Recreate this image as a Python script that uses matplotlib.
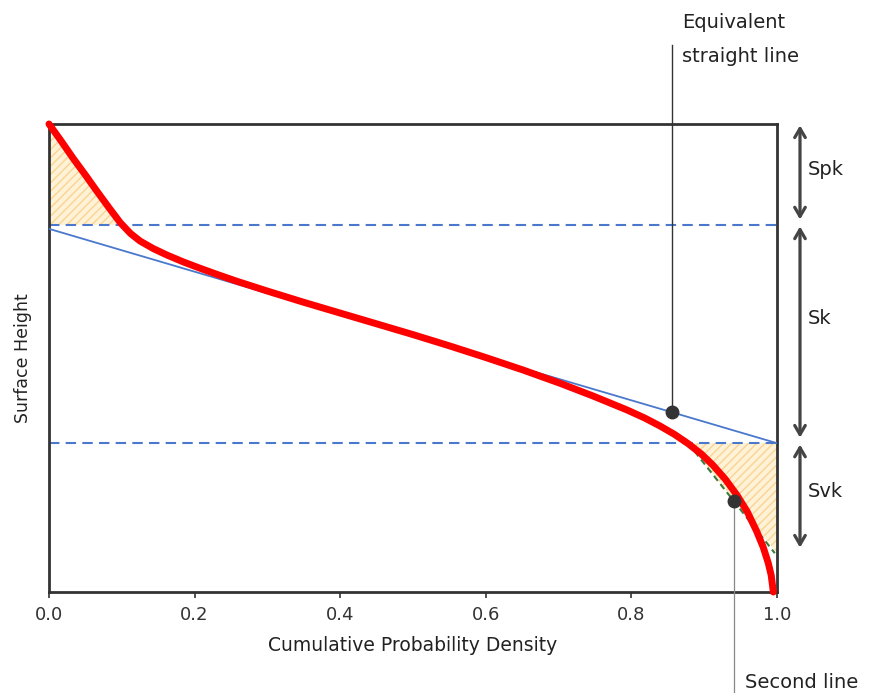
import numpy as np
import matplotlib
matplotlib.use("Agg")
import matplotlib.pyplot as plt

# bearing (Abbott-Firestone) curve
cum_prob = [0.0, 0.017, 0.033, 0.050, 0.066, 0.082, 0.098, 0.112, 0.125, 0.143, 0.162,
            0.185, 0.207, 0.232, 0.258, 0.30, 0.35, 0.40, 0.45, 0.50, 0.55, 0.60,
            0.65, 0.702, 0.747, 0.794, 0.818, 0.839, 0.859, 0.878, 0.896, 0.912,
            0.929, 0.945, 0.959, 0.972, 0.981, 0.988, 0.992, 0.995]
height = [1.0, 0.963, 0.927, 0.891, 0.856, 0.822, 0.789, 0.766, 0.750, 0.734, 0.720,
          0.705, 0.692, 0.678, 0.664, 0.643, 0.619, 0.596, 0.573, 0.550, 0.526, 0.501,
          0.475, 0.446, 0.419, 0.389, 0.372, 0.355, 0.337, 0.317, 0.295, 0.271,
          0.241, 0.207, 0.172, 0.130, 0.096, 0.062, 0.036, 0.0]

# equivalent straight line
equiv_x = [0.0, 1.0]
equiv_y = [0.776, 0.318]

# core limits
upper_core = 0.784
lower_core = 0.318

# peak / valley triangles (green dashed)
peak_x = [0.0, 0.103]
peak_y = [1.0, 0.776]
valley_x = [0.878, 0.997]
valley_y = [0.318, 0.083]

xticks = [0.0, 0.2, 0.4, 0.6, 0.8, 1.0]
xtick_labels = ["0.0", "0.2", "0.4", "0.6", "0.8", "1.0"]

plt.rcParams['hatch.linewidth'] = 1.0
plt.rcParams['hatch.color'] = '#f9d594'

fig = plt.figure(figsize=(8.7, 6.93), dpi=100)
ax = fig.add_axes([0.0563, 0.1457, 0.8368, 0.6754])
ax.set_xlim(0, 1)
ax.set_ylim(0, 1)

blue = '#4a78cc'
dark = '#333333'

# hatched areas
ax.fill([0, 0, 0.098], [1.0, upper_core, upper_core],
        facecolor='#fff2d6', edgecolor='#f9d594', hatch='////', lw=0, zorder=1)
ax.fill([valley_x[0], 1, 1], [lower_core, lower_core, valley_y[1]],
        facecolor='#fff2d6', edgecolor='#f9d594', hatch='////', lw=0, zorder=1)

ax.axhline(upper_core, color=blue, lw=1.5, ls=(0, (5, 3)), zorder=2)
ax.axhline(lower_core, color=blue, lw=1.5, ls=(0, (5, 3)), zorder=2)
ax.plot(equiv_x, equiv_y, color=blue, lw=1.3, zorder=3)
ax.plot(peak_x, peak_y, color='#3a7a3a', lw=1.5, ls=(0, (3, 2)), zorder=3)
ax.plot(valley_x, valley_y, color='#3a7a3a', lw=1.5, ls=(0, (3, 2)), zorder=3)
ax.plot(cum_prob, height, color='#ff0000', lw=5, solid_capstyle='round',
        solid_joinstyle='round', clip_on=False, zorder=4)

# callouts
eq_dot_x = 0.856
eq_dot_y = np.interp(eq_dot_x, equiv_x, equiv_y)
ax.plot([eq_dot_x, eq_dot_x], [eq_dot_y, 1.169], color=dark, lw=1.0,
        clip_on=False, zorder=5)
ax.plot(eq_dot_x, eq_dot_y, 'o', color=dark, ms=9, zorder=6)
ax.text(0.8695, 1.1806, "Equivalent\nstraight line", transform=ax.transAxes,
        ha='left', va='center', fontsize=14, linespacing=2.05, color='#222222')

sec_dot_x = 0.941
sec_dot_y = np.interp(sec_dot_x, valley_x, valley_y)
ax.plot([sec_dot_x, sec_dot_x], [sec_dot_y, -0.216], color='#888888', lw=0.9,
        clip_on=False, zorder=5)
ax.plot(sec_dot_x, sec_dot_y, 'o', color=dark, ms=9, zorder=6)
ax.text(0.956, -0.194, "Second line", transform=ax.transAxes,
        ha='left', va='center', fontsize=14, color='#222222')

# Spk / Sk / Svk arrows
segments = [("Spk", 1.0, upper_core, 0.902),
            ("Sk", upper_core, lower_core, 0.585),
            ("Svk", lower_core, valley_y[1], 0.214)]
for name, top, bot, ylab in segments:
    ax.annotate("", xy=(1.0316, bot), xytext=(1.0316, top),
                xycoords='axes fraction', textcoords='axes fraction',
                arrowprops=dict(arrowstyle='<->,head_width=0.38,head_length=0.65',
                                color='#444444', lw=2.3, shrinkA=1, shrinkB=4))
    ax.text(1.0426, ylab, name, transform=ax.transAxes, ha='left', va='center',
            fontsize=14, color='#222222')

for s in ax.spines.values():
    s.set_color(dark)
    s.set_linewidth(2)
ax.set_xticks(xticks)
ax.set_xticklabels(xtick_labels)
ax.set_yticks([])
ax.tick_params(axis='x', colors=dark, labelsize=13, length=4, width=1.2, pad=6)
ax.set_xlabel("Cumulative Probability Density", fontsize=13.5, color='#222222', labelpad=9)
ax.set_ylabel("Surface Height", fontsize=12.5, color='#222222', labelpad=12)

fig.savefig("out.png", dpi=100)
